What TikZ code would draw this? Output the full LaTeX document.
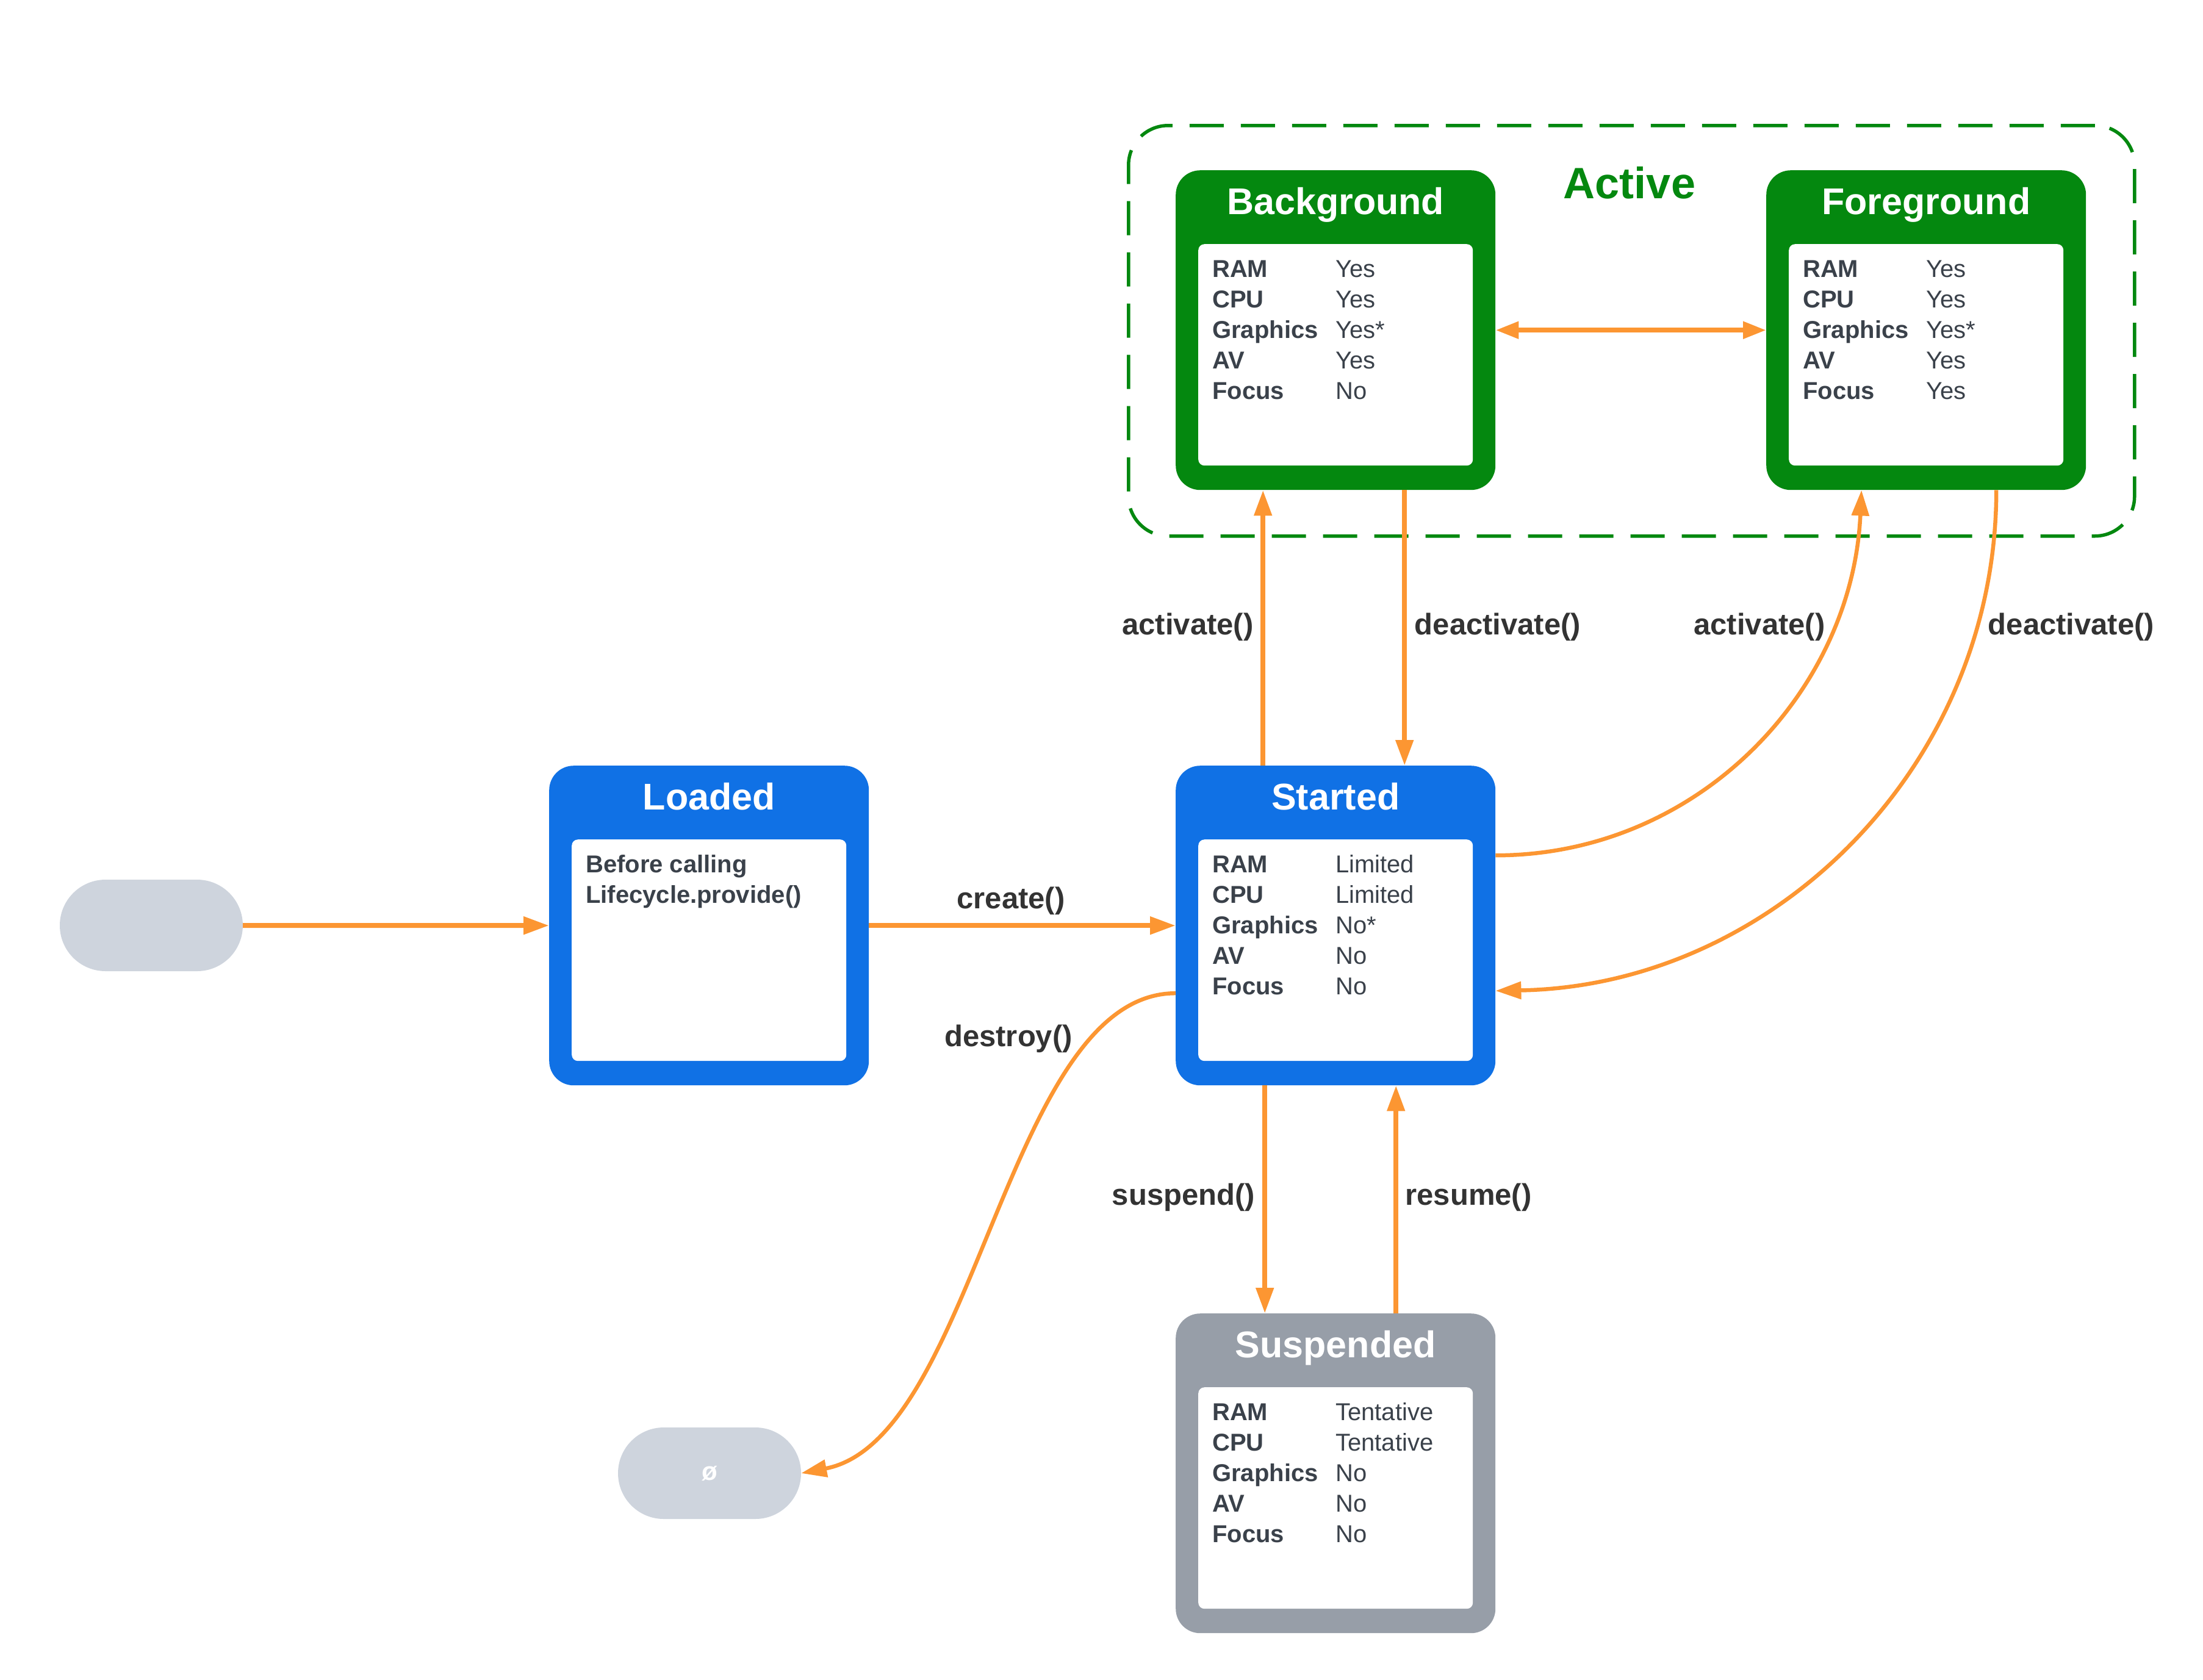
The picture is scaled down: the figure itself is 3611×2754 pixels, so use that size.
\documentclass[tikz,border=0pt]{standalone}
\usepackage{fontspec}
\setmainfont{Liberation Sans}
\usetikzlibrary{arrows.meta}

\definecolor{stateblue}{HTML}{1071E5}
\definecolor{stategreen}{HTML}{04880F}
\definecolor{stategray}{HTML}{979EA8}
\definecolor{pillgray}{HTML}{CED4DD}
\definecolor{flowcol}{HTML}{FC9632}
\definecolor{inktext}{HTML}{3A414A}
\definecolor{labeltext}{HTML}{333333}

\tikzset{
  stateouter/.style={rectangle, rounded corners=40pt, minimum width=524pt,
    minimum height=524pt, inner sep=0pt, anchor=north west},
  stateinner/.style={rectangle, rounded corners=10pt, fill=white,
    minimum width=450pt, minimum height=363pt, inner sep=0pt, anchor=north west},
  statetitle/.style={text=white, font=\fontsize{61}{61}\selectfont\bfseries,
    inner sep=0pt, anchor=base},
  keytext/.style={text=inktext, font=\fontsize{40}{50}\selectfont\bfseries,
    inner sep=0pt, anchor=base west},
  valtext/.style={text=inktext, font=\fontsize{40}{50}\selectfont,
    inner sep=0pt, anchor=base west},
  edgelabel/.style={text=labeltext, font=\fontsize{49}{49}\selectfont\bfseries,
    inner sep=0pt, anchor=base},
  pill/.style={rectangle, rounded corners=75pt, fill=pillgray,
    minimum width=300pt, minimum height=150pt, inner sep=0pt},
  activeframe/.style={rectangle, rounded corners=65pt, draw=stategreen,
    line width=5.5pt, dash pattern=on 56pt off 28pt, minimum width=1649pt,
    minimum height=673pt, inner sep=0pt, anchor=north west},
  flowline/.style={draw=flowcol, line width=8pt,
    -{Triangle[length=42pt,width=28pt]}},
  flowcurve/.style={flowline, line width=6.5pt},
}

% state: outer coloured frame, white body and title
\newcommand\stateframe[5]{%
  \node[stateouter, fill=#4] (#1) at (#2,#3) {};
  \node[stateinner] (#1-body) at ([xshift=37pt, yshift=-121pt]#1.north west) {};
  \node[statetitle] (#1-title) at ([yshift=-72pt]#1.north) {#5};
}

% resource table inside a state body
\newcommand\resrows[6]{%
  \foreach \k/\v [count=\i from 0] in {RAM/#2, CPU/#3, Graphics/#4, AV/#5, Focus/#6} {
    \node[keytext] (#1-k\i) at ([xshift=60pt, yshift={-175pt-\i*50pt}]#1.north west) {\k};
    \node[valtext] (#1-v\i) at ([xshift=262pt, yshift={-175pt-\i*50pt}]#1.north west) {\v};
  }
}

\begin{document}
\begin{tikzpicture}[x=1pt, y=-1pt]
  \useasboundingbox (0,0) rectangle (3611,2754);

  % group of active states
  \node[activeframe] (active) at (1847,203) {};
  \node[text=stategreen, font=\fontsize{72}{72}\selectfont\bfseries,
    inner sep=0pt, anchor=base] (active-title) at (2671,325) {Active};

  % states
  \stateframe{background}{1927}{279}{stategreen}{Background}
  \resrows{background}{Yes}{Yes}{Yes*}{Yes}{No}

  \stateframe{foreground}{2895}{279}{stategreen}{Foreground}
  \resrows{foreground}{Yes}{Yes}{Yes*}{Yes}{Yes}

  \stateframe{loaded}{900}{1255}{stateblue}{Loaded}
  \node[keytext] (loaded-l1) at ([xshift=60pt, yshift=-175pt]loaded.north west) {Before calling};
  \node[keytext] (loaded-l2) at ([xshift=60pt, yshift=-225pt]loaded.north west) {Lifecycle.provide()};

  \stateframe{started}{1927}{1255}{stateblue}{Started}
  \resrows{started}{Limited}{Limited}{No*}{No}{No}

  \stateframe{suspended}{1927}{2153}{stategray}{Suspended}
  \resrows{suspended}{Tentative}{Tentative}{No}{No}{No}

  % initial and final pseudo-states
  \node[pill] (startpill) at (248,1517) {};
  \node[pill, text=white, font=\fontsize{42}{42}\selectfont\bfseries] (endpill) at (1163,2415) {ø};

  % transitions
  \draw[flowline] (startpill.east) -- (loaded.west);
  \draw[flowline] (loaded.east) -- (started.west);
  \draw[flowline] ([xshift=-119pt]started.north) -- ([xshift=-119pt]background.south);
  \draw[flowline] ([xshift=113pt]background.south) -- ([xshift=113pt]started.north);
  \draw[flowline, {Triangle[length=38pt,width=27pt]}-{Triangle[length=38pt,width=27pt]}]
    (background.east) -- (foreground.west);
  \draw[flowline] ([xshift=-116pt]started.south) -- ([xshift=-116pt]suspended.north);
  \draw[flowline] ([xshift=99pt]suspended.north) -- ([xshift=99pt]started.south);

  \draw[flowcurve] ([yshift=115pt]started.east)
    .. controls +(332,0) and +(-15,330) .. ([xshift=-106pt]foreground.south);
  \draw[flowcurve] ([xshift=115pt]foreground.south)
    .. controls +(0,453) and +(454,-8) .. ([yshift=-107pt]started.east);
  \draw[flowcurve] ([yshift=-111pt]started.west)
    .. controls +(-277,0) and +(287,-55) .. (endpill.east);

  % transition labels
  \node[edgelabel] (lbl-create) at (1657,1489) {create()};
  \node[edgelabel] (lbl-act1) at (1947,1040) {activate()};
  \node[edgelabel] (lbl-deact1) at (2455,1040) {deactivate()};
  \node[edgelabel] (lbl-act2) at (2884,1040) {activate()};
  \node[edgelabel] (lbl-deact2) at (3395,1040) {deactivate()};
  \node[edgelabel] (lbl-destroy) at (1653,1715) {destroy()};
  \node[edgelabel] (lbl-suspend) at (1940,1975) {suspend()};
  \node[edgelabel] (lbl-resume) at (2407,1975) {resume()};
\end{tikzpicture}
\end{document}
